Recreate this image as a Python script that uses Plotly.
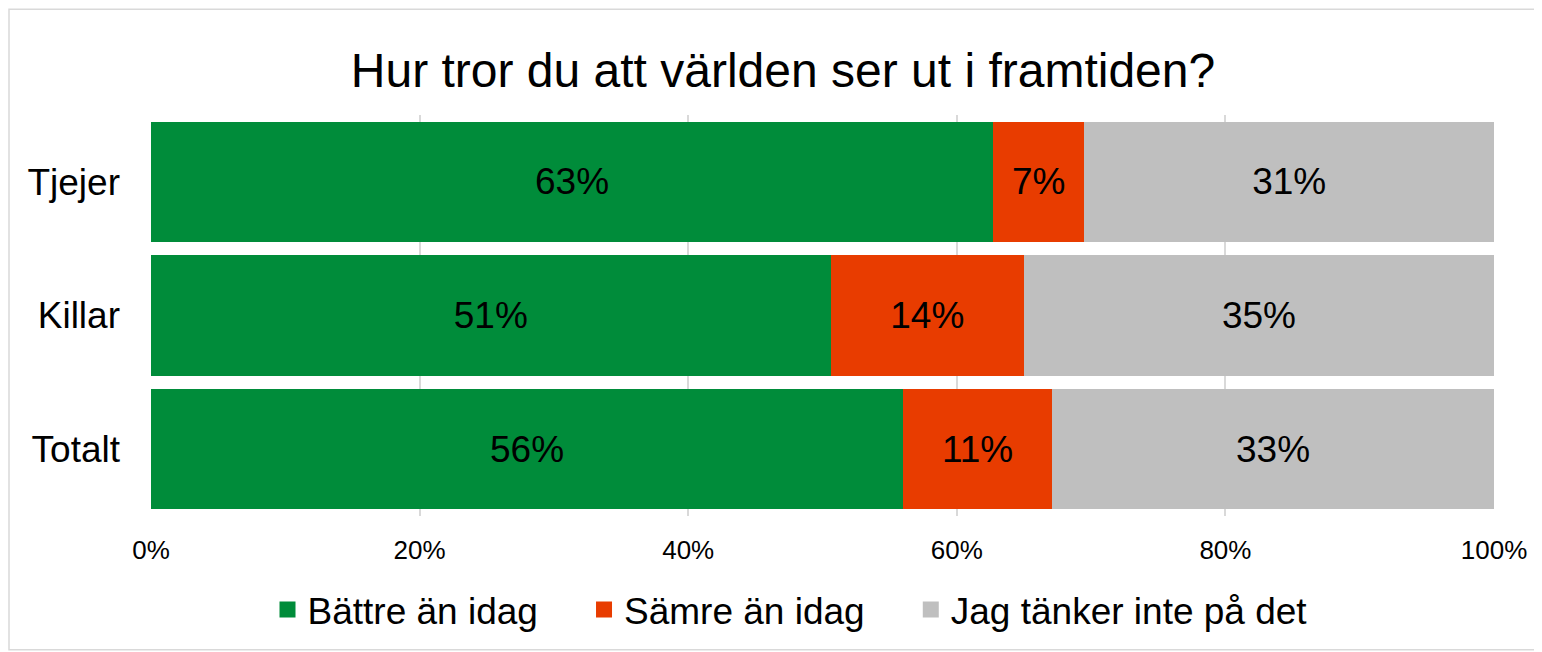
import plotly.graph_objects as go

# Data (shares in percent)
categories = ["Tjejer", "Killar", "Totalt"]
series_names = ["Bättre än idag", "Sämre än idag", "Jag tänker inte på det"]
battre = [62.7, 50.6, 56.0]
samre = [6.8, 14.4, 11.1]
tanker_inte = [30.5, 35.0, 32.9]
tick_vals = [0, 20, 40, 60, 80, 100]
tick_text = ["0%", "20%", "40%", "60%", "80%", "100%"]

colors = ["#008C3A", "#E83C00", "#BFBFBF"]

# the page body has an 8px margin, so work in figure pixels = page pixels - 8
OFF = 8
W, H = 1542 - OFF, 652 - OFF
L, R, T, B = 151 - OFF, 1494 - OFF, 115 - OFF, 517 - OFF  # plot area


def pct(v):
    # Excel-style rounding (half up)
    return f"{int(v + 0.5)}%"


fig = go.Figure()
for name, vals, col in zip(series_names, [battre, samre, tanker_inte], colors):
    fig.add_trace(go.Bar(
        y=categories, x=vals, name=name, orientation="h",
        marker=dict(color=col, line=dict(width=0)),
        text=[pct(v) for v in vals],
        textposition="inside", insidetextanchor="middle",
        textfont=dict(size=37, color="black"),
        hoverinfo="skip", showlegend=False,
    ))

# legend entries with bigger square swatches; nbsp padding widens the gaps
for i, (name, col) in enumerate(zip(series_names, colors)):
    pad = "\u00a0" * 4 if i < len(series_names) - 1 else ""
    fig.add_trace(go.Scatter(
        x=[None], y=[None], mode="markers", name=name + pad,
        marker=dict(color=col, symbol="square", size=17),
    ))


def px_x(p):
    return (p - OFF - L) / (R - L)


def px_y(p):
    return (B - (p - OFF)) / (B - T)


# outer light border of the chart area
fig.add_shape(type="rect", xref="paper", yref="paper",
              x0=px_x(9), x1=px_x(1538), y0=px_y(651), y1=px_y(9),
              line=dict(color="#D9D9D9", width=1.5), layer="below")

fig.update_layout(
    width=W, height=H,
    barmode="stack", bargap=0.1,
    font=dict(family="Liberation Sans, Arial, sans-serif", color="black"),
    title=dict(text="Hur tror du att världen ser ut i framtiden?",
               x=(783 - OFF) / W, xanchor="center", xref="container",
               y=1 - (70 - OFF) / H, yanchor="middle", yref="container",
               font=dict(size=48, color="black")),
    margin=dict(l=L, r=W - R, t=T, b=H - B, pad=0),
    plot_bgcolor="white", paper_bgcolor="white",
    showlegend=True,
    legend=dict(orientation="h", x=px_x(790), xanchor="center",
                y=px_y(610), yanchor="middle", traceorder="normal",
                font=dict(size=37), itemwidth=30),
)

fig.update_xaxes(range=[0, 100], tickvals=tick_vals, ticktext=tick_text,
                 showgrid=True, gridcolor="#D9D9D9", gridwidth=1.5,
                 zeroline=False, showline=False,
                 tickfont=dict(size=26), ticklabelstandoff=16,
                 fixedrange=True)
fig.update_yaxes(categoryorder="array", categoryarray=categories[::-1],
                 showgrid=False, zeroline=False, showline=False,
                 tickfont=dict(size=37), ticklabelstandoff=30,
                 fixedrange=True)

fig.write_html("out.html")
